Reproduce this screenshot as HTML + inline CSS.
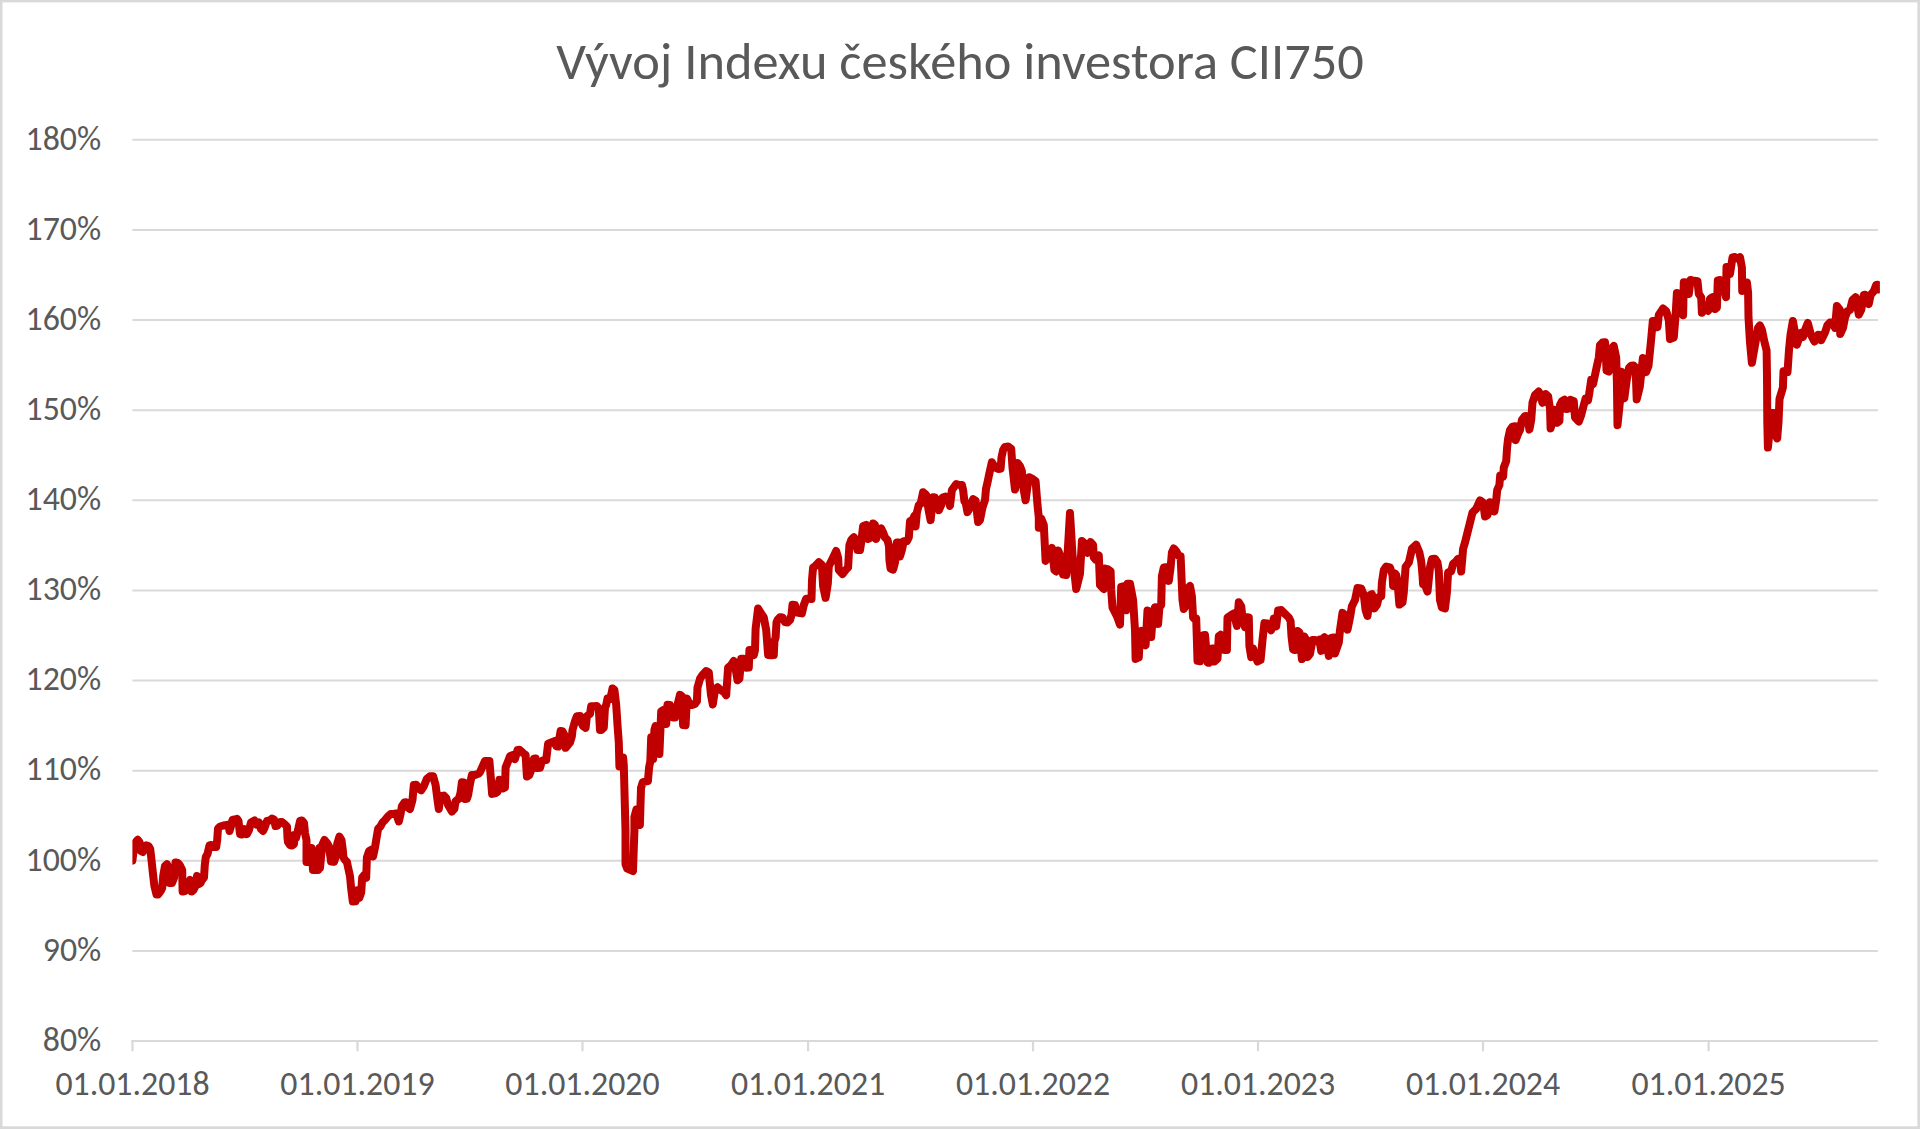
<!DOCTYPE html>
<html lang="cs"><head><meta charset="utf-8"><title>Vývoj Indexu českého investora CII750</title>
<style>
html,body{margin:0;padding:0;background:#fff;overflow:hidden;}
svg{display:block;}
text{font-family:Carlito,"Liberation Sans",sans-serif;fill:#595959;}
</style></head><body>
<svg width="1920" height="1129" viewBox="0 0 1920 1129">
<rect x="0" y="0" width="1920" height="1129" fill="#ffffff"/>
<g stroke="#d9d9d9" stroke-width="2" fill="none">
<line x1="132.4" y1="139.80" x2="1877.9" y2="139.80"/>
<line x1="132.4" y1="229.93" x2="1877.9" y2="229.93"/>
<line x1="132.4" y1="320.06" x2="1877.9" y2="320.06"/>
<line x1="132.4" y1="410.19" x2="1877.9" y2="410.19"/>
<line x1="132.4" y1="500.32" x2="1877.9" y2="500.32"/>
<line x1="132.4" y1="590.45" x2="1877.9" y2="590.45"/>
<line x1="132.4" y1="680.58" x2="1877.9" y2="680.58"/>
<line x1="132.4" y1="770.71" x2="1877.9" y2="770.71"/>
<line x1="132.4" y1="860.84" x2="1877.9" y2="860.84"/>
<line x1="132.4" y1="950.97" x2="1877.9" y2="950.97"/>
<line x1="131.4" y1="1041.10" x2="1877.9" y2="1041.10"/>
<line x1="132.50" y1="1040.10" x2="132.50" y2="1051.3" stroke-width="2.2"/>
<line x1="357.48" y1="1040.10" x2="357.48" y2="1051.3" stroke-width="2.2"/>
<line x1="582.46" y1="1040.10" x2="582.46" y2="1051.3" stroke-width="2.2"/>
<line x1="808.06" y1="1040.10" x2="808.06" y2="1051.3" stroke-width="2.2"/>
<line x1="1033.04" y1="1040.10" x2="1033.04" y2="1051.3" stroke-width="2.2"/>
<line x1="1258.02" y1="1040.10" x2="1258.02" y2="1051.3" stroke-width="2.2"/>
<line x1="1483.00" y1="1040.10" x2="1483.00" y2="1051.3" stroke-width="2.2"/>
<line x1="1708.60" y1="1040.10" x2="1708.60" y2="1051.3" stroke-width="2.2"/>
</g>
<g font-size="33.85">
<text transform="translate(101.2,149.50) scale(1.0,1)" text-anchor="end" textLength="75.625" lengthAdjust="spacingAndGlyphs">180%</text>
<text transform="translate(101.2,239.63) scale(1.0,1)" text-anchor="end" textLength="75.625" lengthAdjust="spacingAndGlyphs">170%</text>
<text transform="translate(101.2,329.76) scale(1.0,1)" text-anchor="end" textLength="75.625" lengthAdjust="spacingAndGlyphs">160%</text>
<text transform="translate(101.2,419.89) scale(1.0,1)" text-anchor="end" textLength="75.625" lengthAdjust="spacingAndGlyphs">150%</text>
<text transform="translate(101.2,510.02) scale(1.0,1)" text-anchor="end" textLength="75.625" lengthAdjust="spacingAndGlyphs">140%</text>
<text transform="translate(101.2,600.15) scale(1.0,1)" text-anchor="end" textLength="75.625" lengthAdjust="spacingAndGlyphs">130%</text>
<text transform="translate(101.2,690.28) scale(1.0,1)" text-anchor="end" textLength="75.625" lengthAdjust="spacingAndGlyphs">120%</text>
<text transform="translate(101.2,780.41) scale(1.0,1)" text-anchor="end" textLength="75.625" lengthAdjust="spacingAndGlyphs">110%</text>
<text transform="translate(101.2,870.54) scale(1.0,1)" text-anchor="end" textLength="75.625" lengthAdjust="spacingAndGlyphs">100%</text>
<text transform="translate(101.2,960.67) scale(1.0,1)" text-anchor="end" textLength="58.484" lengthAdjust="spacingAndGlyphs">90%</text>
<text transform="translate(101.2,1050.80) scale(1.0,1)" text-anchor="end" textLength="58.484" lengthAdjust="spacingAndGlyphs">80%</text>
<text transform="translate(132.50,1095.2) scale(1.0,1)" text-anchor="middle" textLength="154.25" lengthAdjust="spacingAndGlyphs">01.01.2018</text>
<text transform="translate(357.48,1095.2) scale(1.0,1)" text-anchor="middle" textLength="154.25" lengthAdjust="spacingAndGlyphs">01.01.2019</text>
<text transform="translate(582.46,1095.2) scale(1.0,1)" text-anchor="middle" textLength="154.25" lengthAdjust="spacingAndGlyphs">01.01.2020</text>
<text transform="translate(808.06,1095.2) scale(1.0,1)" text-anchor="middle" textLength="154.25" lengthAdjust="spacingAndGlyphs">01.01.2021</text>
<text transform="translate(1033.04,1095.2) scale(1.0,1)" text-anchor="middle" textLength="154.25" lengthAdjust="spacingAndGlyphs">01.01.2022</text>
<text transform="translate(1258.02,1095.2) scale(1.0,1)" text-anchor="middle" textLength="154.25" lengthAdjust="spacingAndGlyphs">01.01.2023</text>
<text transform="translate(1483.00,1095.2) scale(1.0,1)" text-anchor="middle" textLength="154.25" lengthAdjust="spacingAndGlyphs">01.01.2024</text>
<text transform="translate(1708.60,1095.2) scale(1.0,1)" text-anchor="middle" textLength="154.25" lengthAdjust="spacingAndGlyphs">01.01.2025</text>
</g>
<text transform="translate(960,79) scale(1.002,1)" text-anchor="middle" font-size="52.3" textLength="806.08" lengthAdjust="spacingAndGlyphs">Vývoj Indexu českého investora CII750</text>
<clipPath id="pa"><rect x="132.4" y="0" width="1747.5" height="1129"/></clipPath>
<path clip-path="url(#pa)" d="M132.4,860.6 L133.5,852.0 L135.0,843.0 L137.7,839.8 L139.5,842.0 L140.8,851.0 L142.8,852.0 L144.5,846.0 L146.1,845.3 L148.5,846.0 L150.2,849.0 L151.5,860.0 L153.0,874.0 L154.4,886.0 L156.5,894.5 L158.0,894.5 L159.5,892.5 L161.0,890.5 L162.2,888.0 L163.2,876.0 L165.0,866.0 L167.0,864.2 L168.5,869.0 L169.5,883.0 L172.0,883.0 L174.0,878.0 L175.5,862.5 L177.8,863.0 L180.0,865.5 L182.2,870.0 L182.4,882.0 L182.6,891.5 L185.0,891.0 L187.5,886.0 L190.0,880.0 L191.5,883.0 L191.8,891.5 L193.5,890.0 L195.5,886.0 L197.0,876.0 L198.8,884.0 L200.5,883.0 L202.0,880.0 L204.0,877.5 L204.8,865.0 L205.8,857.0 L207.5,854.0 L209.5,845.5 L211.5,845.0 L213.0,847.0 L215.0,847.0 L216.2,847.0 L217.2,840.0 L218.0,828.5 L220.0,826.5 L223.5,825.5 L227.0,825.0 L228.5,824.5 L229.5,831.0 L231.0,826.0 L232.5,820.0 L234.5,819.5 L237.0,818.8 L238.5,821.0 L240.0,834.0 L242.0,834.5 L244.0,829.0 L245.5,830.0 L247.0,834.0 L249.0,830.0 L251.0,822.5 L254.5,820.5 L256.5,824.5 L259.0,822.5 L261.0,829.0 L263.0,831.0 L264.5,828.0 L267.0,821.0 L269.5,820.5 L272.0,818.5 L274.0,819.5 L275.5,826.0 L277.5,825.5 L280.0,822.0 L282.0,822.0 L285.0,824.5 L287.0,826.5 L287.5,838.0 L288.0,842.0 L290.0,845.0 L292.0,845.5 L294.0,844.0 L294.2,835.0 L296.0,838.0 L298.0,830.0 L300.0,821.0 L302.0,820.5 L304.0,823.0 L305.0,833.0 L306.5,840.0 L306.5,862.0 L308.5,862.0 L310.0,848.0 L311.5,848.0 L313.0,870.0 L316.0,870.0 L318.0,870.0 L319.5,848.0 L320.0,867.8 L322.2,845.0 L324.4,840.0 L326.9,842.8 L329.0,846.5 L331.0,861.5 L334.0,861.9 L336.0,856.2 L337.2,843.8 L339.4,836.6 L341.5,840.0 L342.8,850.0 L343.5,857.5 L345.0,860.0 L346.9,861.9 L348.1,867.5 L350.0,876.2 L351.2,888.8 L352.8,901.5 L355.6,901.2 L357.5,890.4 L359.4,897.8 L361.2,892.5 L362.2,877.5 L364.4,874.8 L366.2,877.8 L366.9,857.5 L369.0,851.2 L371.2,849.8 L373.1,856.5 L375.0,847.5 L376.2,840.0 L378.1,828.8 L380.6,826.2 L382.5,822.5 L385.0,820.0 L388.1,816.2 L390.6,814.1 L393.8,814.0 L396.2,813.5 L398.8,821.5 L400.6,813.8 L401.9,806.2 L404.4,802.5 L406.2,802.2 L408.1,807.5 L410.0,809.0 L412.5,800.0 L413.8,785.0 L416.2,784.8 L418.8,788.8 L421.2,790.2 L423.8,786.2 L426.9,778.8 L430.0,776.2 L433.1,776.2 L435.6,785.0 L437.5,800.0 L438.8,809.0 L440.6,796.0 L443.8,795.6 L446.2,798.1 L448.1,805.0 L451.9,811.5 L454.4,808.8 L455.6,801.2 L458.8,798.8 L460.6,792.5 L461.9,782.2 L463.8,782.5 L465.0,799.0 L466.9,798.8 L468.1,795.0 L470.0,783.8 L471.9,775.0 L475.0,775.0 L478.8,773.5 L480.0,772.1 L485.0,761.0 L489.4,761.0 L491.0,780.0 L492.1,794.0 L495.6,793.1 L497.5,791.9 L499.4,779.8 L501.2,781.2 L503.1,788.4 L505.0,787.5 L505.6,767.5 L508.1,761.2 L510.0,756.2 L513.1,754.8 L515.0,759.0 L517.5,750.0 L519.4,749.8 L523.1,753.1 L525.6,755.0 L526.9,776.5 L529.4,775.0 L531.2,770.0 L533.8,758.8 L535.6,758.5 L537.5,768.1 L540.0,767.8 L541.9,761.0 L543.8,760.2 L546.2,760.0 L548.1,743.8 L551.2,742.5 L555.0,741.0 L556.2,746.2 L558.1,746.5 L560.6,731.0 L562.5,731.2 L564.4,735.0 L565.6,747.8 L567.5,745.6 L570.0,742.5 L571.9,736.2 L572.5,730.0 L575.0,721.2 L576.9,716.2 L580.0,716.0 L581.2,722.5 L583.1,726.2 L585.6,727.8 L586.9,716.2 L590.0,713.8 L591.2,706.2 L593.8,706.2 L596.9,706.0 L598.8,708.8 L600.0,730.0 L601.2,730.0 L603.8,727.5 L605.0,707.5 L606.2,705.0 L607.5,698.5 L610.0,699.0 L611.2,695.0 L612.5,688.5 L614.4,690.0 L616.2,705.0 L617.5,725.0 L618.8,742.5 L619.4,766.5 L621.2,757.5 L623.1,757.5 L623.8,765.0 L624.3,784.5 L624.9,807.6 L625.5,830.6 L625.5,853.6 L625.5,864.0 L627.2,868.6 L633.0,871.0 L634.4,831.0 L634.4,816.8 L636.4,809.7 L639.9,825.0 L641.0,788.0 L642.8,782.2 L647.9,781.1 L649.1,767.3 L650.3,761.5 L651.2,737.2 L653.1,759.0 L654.4,730.0 L655.6,726.0 L657.5,727.5 L659.4,754.0 L661.2,711.2 L663.8,709.8 L666.2,724.0 L667.5,704.8 L670.0,705.0 L673.1,717.5 L675.0,717.5 L677.5,705.0 L680.0,694.8 L681.9,696.2 L683.1,725.0 L685.6,725.2 L686.9,698.5 L690.0,705.0 L692.5,705.0 L695.0,703.8 L696.9,701.2 L697.5,687.5 L700.0,678.8 L702.5,675.0 L706.2,671.0 L708.8,672.5 L710.0,685.0 L711.0,695.0 L712.8,704.5 L715.0,690.0 L717.5,687.2 L720.6,690.0 L724.4,692.5 L726.2,695.2 L726.9,685.0 L728.1,667.5 L731.2,665.0 L733.8,661.0 L735.6,668.8 L737.5,680.2 L739.4,678.8 L741.2,658.8 L743.8,658.8 L746.2,667.8 L748.8,667.5 L749.4,650.0 L752.5,650.0 L753.8,655.2 L755.0,650.0 L755.6,628.8 L758.1,608.5 L760.6,612.5 L763.8,617.5 L766.2,630.0 L768.1,655.0 L771.2,655.2 L773.8,655.0 L774.4,641.2 L775.6,637.5 L776.5,622.5 L777.5,620.0 L780.0,617.2 L782.5,617.5 L785.0,622.1 L787.5,622.5 L790.0,620.0 L791.5,615.0 L792.5,604.8 L795.0,605.0 L796.9,612.5 L801.9,613.4 L803.8,605.0 L806.2,598.8 L808.8,598.5 L811.5,599.0 L812.0,580.0 L813.1,567.5 L815.0,566.2 L818.8,562.2 L821.9,565.0 L823.1,586.2 L825.6,597.8 L827.8,583.8 L828.8,566.2 L830.6,562.5 L833.1,557.5 L836.2,551.0 L838.1,557.5 L838.8,570.0 L842.5,574.0 L845.6,570.0 L848.1,567.5 L848.8,555.0 L849.4,545.0 L851.2,540.0 L853.8,537.2 L855.6,540.0 L857.5,550.0 L860.0,550.0 L861.2,542.5 L863.1,526.2 L866.2,524.8 L868.1,539.0 L871.2,537.5 L873.1,523.5 L875.0,525.0 L876.2,539.0 L878.1,532.5 L881.2,528.5 L883.1,532.5 L885.0,537.5 L887.5,540.0 L889.0,546.2 L889.4,560.0 L890.6,568.8 L893.1,569.6 L895.0,562.5 L896.9,542.5 L898.8,542.5 L900.0,556.5 L901.9,550.0 L903.8,541.2 L906.9,541.2 L908.8,537.5 L910.0,521.2 L912.5,520.0 L914.4,516.0 L915.6,526.5 L916.9,512.5 L918.8,505.0 L920.6,503.8 L923.1,492.2 L925.0,493.8 L926.2,495.0 L928.8,511.2 L930.6,520.2 L933.1,497.2 L935.0,497.5 L936.9,505.0 L938.8,510.2 L941.2,505.0 L942.5,497.5 L945.6,496.6 L948.1,498.8 L950.0,505.9 L951.9,490.0 L956.2,484.1 L959.4,485.0 L961.9,485.0 L963.1,490.0 L964.4,501.2 L965.6,502.5 L967.5,512.1 L970.0,507.5 L973.1,499.1 L975.6,500.6 L978.1,522.1 L980.0,520.0 L982.5,507.5 L985.0,500.0 L986.0,488.8 L987.5,482.5 L989.0,475.0 L991.9,462.2 L995.0,467.5 L998.1,469.0 L1000.6,468.8 L1001.5,457.5 L1003.1,450.0 L1005.0,446.9 L1008.1,446.6 L1011.2,448.8 L1012.5,467.5 L1015.0,489.6 L1017.5,462.9 L1020.0,466.2 L1021.9,471.2 L1023.1,486.2 L1025.6,500.2 L1027.5,486.2 L1029.4,477.2 L1032.5,478.8 L1035.6,481.2 L1037.5,505.0 L1038.8,517.5 L1038.8,527.8 L1041.2,518.5 L1043.8,525.0 L1045.6,560.9 L1048.8,555.0 L1051.9,547.9 L1054.4,570.0 L1056.2,571.5 L1058.1,550.4 L1060.0,555.0 L1063.1,574.6 L1066.2,575.0 L1067.5,555.0 L1070.0,512.9 L1072.5,555.0 L1076.2,589.0 L1080.0,573.8 L1081.9,541.0 L1085.0,543.8 L1087.5,552.8 L1090.6,542.2 L1093.1,545.0 L1093.8,557.5 L1095.6,559.6 L1098.8,555.4 L1100.0,585.0 L1103.8,589.0 L1105.0,568.5 L1108.1,569.4 L1110.6,571.2 L1111.2,590.0 L1112.5,607.5 L1115.0,612.5 L1116.9,616.2 L1120.0,624.6 L1121.2,586.9 L1124.4,586.0 L1126.2,610.2 L1127.5,583.8 L1130.0,583.8 L1133.1,600.0 L1135.0,630.0 L1135.6,659.0 L1138.8,657.5 L1140.0,632.5 L1141.2,631.0 L1143.8,642.5 L1145.6,645.2 L1147.5,610.4 L1150.0,617.5 L1151.2,637.1 L1153.1,612.5 L1155.0,607.2 L1156.9,607.5 L1158.1,624.0 L1159.4,607.5 L1161.2,605.0 L1161.9,576.2 L1163.8,567.5 L1166.2,567.2 L1168.8,580.9 L1170.6,567.5 L1171.9,552.5 L1173.8,548.5 L1176.2,551.2 L1178.8,556.2 L1180.6,556.2 L1182.5,600.0 L1183.8,609.0 L1186.2,605.0 L1187.5,588.8 L1190.0,586.0 L1191.9,596.2 L1193.1,617.5 L1194.4,619.0 L1196.2,618.5 L1196.9,640.0 L1197.5,660.9 L1200.0,661.2 L1202.5,635.4 L1205.0,635.0 L1207.5,662.5 L1208.8,662.8 L1211.2,648.8 L1213.1,648.5 L1214.4,661.5 L1217.5,658.8 L1218.8,636.2 L1220.6,634.8 L1222.5,638.8 L1224.4,650.0 L1226.9,650.0 L1227.5,617.5 L1231.2,615.0 L1233.8,613.5 L1236.9,625.9 L1238.8,602.2 L1241.2,606.2 L1242.5,617.5 L1245.0,627.1 L1246.9,617.2 L1248.8,617.5 L1249.4,646.2 L1251.2,657.1 L1253.1,648.5 L1255.0,655.0 L1257.5,661.5 L1260.6,660.0 L1262.5,640.0 L1264.4,623.1 L1267.5,623.5 L1271.2,630.2 L1273.8,618.5 L1276.2,626.5 L1278.1,610.4 L1281.2,610.0 L1285.0,613.8 L1288.8,617.5 L1290.6,621.2 L1291.5,636.2 L1293.1,649.6 L1295.0,650.0 L1297.5,631.0 L1299.4,632.5 L1301.9,659.0 L1304.4,636.6 L1305.6,638.8 L1307.5,657.1 L1310.0,653.8 L1312.5,640.0 L1315.0,640.0 L1317.5,641.5 L1319.4,639.8 L1321.2,650.9 L1322.5,638.8 L1324.4,637.2 L1326.2,640.0 L1328.8,655.9 L1331.2,637.9 L1333.8,637.5 L1335.0,653.4 L1338.8,642.5 L1340.0,630.0 L1342.5,612.9 L1345.0,615.0 L1347.5,629.6 L1350.0,617.5 L1351.9,606.2 L1355.0,600.0 L1357.5,588.1 L1361.2,588.5 L1363.8,595.0 L1365.6,610.0 L1367.5,615.9 L1370.0,595.0 L1371.9,594.1 L1373.8,605.0 L1374.4,608.4 L1376.9,605.0 L1378.8,597.2 L1381.2,596.5 L1381.9,582.5 L1383.8,570.0 L1386.2,566.6 L1390.0,567.5 L1392.5,575.0 L1393.1,585.9 L1395.0,573.5 L1396.2,575.0 L1397.5,582.5 L1399.4,604.6 L1402.5,602.5 L1403.8,592.5 L1405.6,566.9 L1408.8,562.5 L1410.0,557.5 L1411.9,548.8 L1416.2,544.8 L1419.4,552.5 L1421.2,561.2 L1422.5,575.0 L1423.1,584.4 L1425.0,585.0 L1427.5,591.5 L1430.0,567.5 L1431.9,559.1 L1435.0,558.8 L1437.5,562.5 L1438.8,571.2 L1440.0,600.0 L1441.9,607.5 L1445.0,608.4 L1446.9,592.5 L1448.1,572.5 L1451.2,571.2 L1453.1,563.8 L1456.2,561.2 L1458.1,558.8 L1460.0,558.8 L1461.2,571.5 L1463.1,548.8 L1465.0,542.5 L1472.5,512.5 L1476.2,508.8 L1480.0,500.4 L1483.1,502.5 L1485.0,516.5 L1487.5,515.0 L1490.0,502.2 L1492.5,505.0 L1494.4,511.5 L1496.2,500.0 L1497.2,490.0 L1499.4,485.0 L1500.2,475.4 L1503.1,476.5 L1503.8,467.5 L1506.2,461.2 L1507.1,447.5 L1508.1,438.8 L1510.0,430.0 L1512.5,426.6 L1515.0,426.2 L1515.6,440.2 L1518.1,433.8 L1520.0,430.0 L1521.9,420.0 L1525.0,416.0 L1527.5,416.2 L1529.4,429.6 L1531.2,420.0 L1532.5,402.5 L1535.0,395.0 L1538.8,391.6 L1542.5,402.8 L1545.6,394.1 L1548.1,396.2 L1550.0,408.8 L1550.6,428.4 L1553.1,417.5 L1555.0,409.8 L1556.9,422.8 L1559.4,421.2 L1560.0,405.0 L1561.9,401.2 L1564.4,399.8 L1566.2,409.0 L1568.1,408.8 L1570.6,399.8 L1573.8,401.2 L1575.0,417.5 L1578.8,421.5 L1581.2,415.0 L1583.8,405.0 L1585.6,398.5 L1588.1,400.2 L1589.4,392.5 L1591.2,379.8 L1593.1,384.0 L1595.0,375.0 L1596.9,366.2 L1598.8,357.5 L1600.0,345.0 L1602.5,342.5 L1605.0,342.2 L1606.0,357.5 L1606.5,370.6 L1608.8,371.5 L1610.0,350.0 L1613.8,346.0 L1616.2,357.5 L1616.9,382.5 L1617.5,425.2 L1620.0,401.0 L1621.2,371.7 L1622.5,385.0 L1624.3,398.2 L1626.8,379.4 L1629.0,368.0 L1631.1,365.7 L1633.6,365.5 L1635.6,367.5 L1636.7,399.4 L1639.8,386.8 L1642.9,358.0 L1646.0,372.2 L1648.5,365.7 L1651.0,340.9 L1652.8,321.0 L1655.9,320.8 L1657.5,327.1 L1658.8,315.0 L1663.1,308.5 L1666.2,311.2 L1668.8,320.0 L1670.0,339.0 L1673.8,337.5 L1675.6,315.0 L1676.9,292.9 L1680.0,295.0 L1683.1,315.2 L1683.8,282.2 L1686.9,282.5 L1688.8,294.0 L1690.6,280.0 L1692.5,280.4 L1697.5,281.2 L1698.8,293.8 L1701.2,297.5 L1701.9,312.8 L1705.0,308.5 L1708.1,310.9 L1710.0,298.8 L1712.5,297.2 L1715.0,309.0 L1716.9,307.5 L1717.8,280.4 L1720.0,280.0 L1722.5,282.5 L1726.0,297.1 L1726.5,266.9 L1728.8,267.2 L1730.0,274.0 L1732.5,257.5 L1735.0,257.0 L1738.1,259.0 L1740.0,257.2 L1741.9,267.5 L1742.2,290.9 L1743.8,282.5 L1746.9,282.5 L1748.1,292.5 L1748.5,317.5 L1750.0,342.5 L1751.9,362.8 L1755.0,345.0 L1758.0,328.0 L1759.9,325.5 L1762.0,330.0 L1764.0,340.0 L1766.6,350.5 L1767.0,376.0 L1767.3,422.0 L1767.9,447.6 L1771.4,412.9 L1773.7,412.9 L1774.9,433.6 L1777.2,438.4 L1778.5,422.0 L1779.5,399.0 L1782.9,387.6 L1783.5,371.3 L1787.5,372.0 L1789.0,350.0 L1790.5,335.0 L1792.9,321.0 L1794.5,330.0 L1796.9,344.7 L1799.0,338.0 L1801.0,333.0 L1803.0,337.0 L1805.0,330.0 L1807.8,323.0 L1811.0,335.0 L1814.4,341.5 L1818.1,334.8 L1820.0,335.0 L1821.2,340.2 L1825.0,332.5 L1827.5,325.0 L1830.0,322.5 L1832.5,322.2 L1835.0,327.8 L1836.9,306.0 L1840.0,310.0 L1840.2,334.0 L1843.1,327.5 L1845.0,317.5 L1847.5,311.2 L1850.0,310.0 L1852.5,300.0 L1855.6,297.2 L1858.8,314.6 L1861.2,310.0 L1863.8,295.0 L1865.0,294.8 L1868.8,304.0 L1870.6,295.0 L1873.8,291.2 L1876.2,285.0 L1877.5,284.8 L1878.6,289.5" fill="none" stroke="#c00000" stroke-width="8" stroke-linejoin="round" stroke-linecap="round"/>
<g fill="#d9d9d9">
<rect x="0" y="0" width="1920" height="2.4"/>
<rect x="0" y="0" width="2.5" height="1129"/>
<rect x="1917.4" y="0" width="2.6" height="1129"/>
<rect x="0" y="1126.3" width="1920" height="2.7"/>
</g>
</svg>
</body></html>
